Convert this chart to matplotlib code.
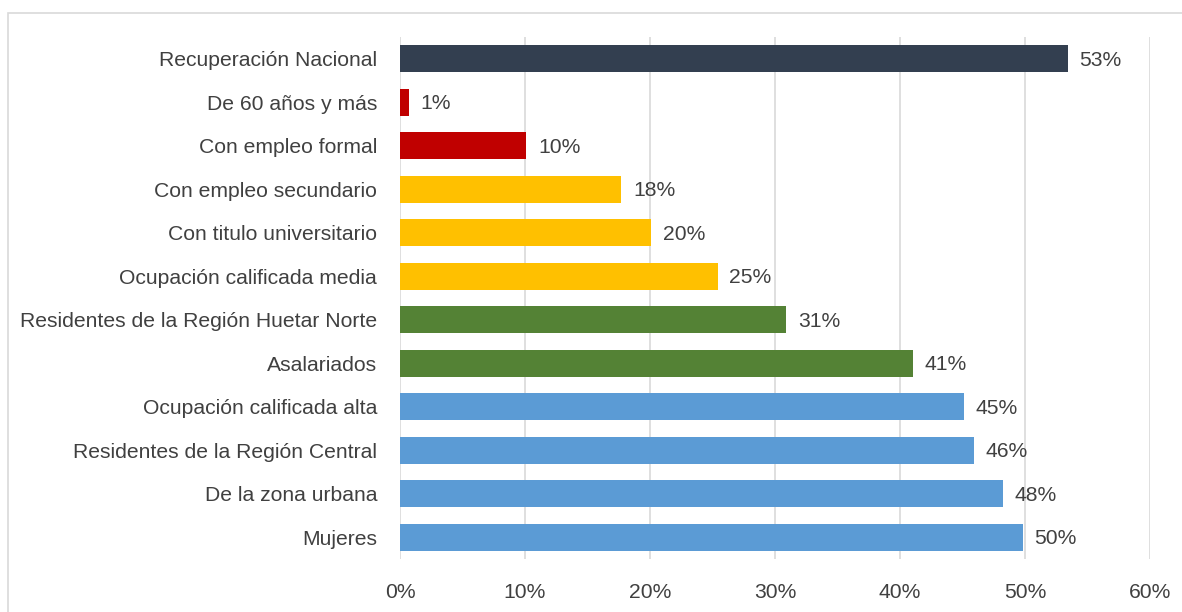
import matplotlib.pyplot as plt
from matplotlib.patches import Rectangle
from matplotlib.ticker import FuncFormatter

# data (top to bottom)
categorias = ['Recuperación Nacional', 'De 60 años y más', 'Con empleo formal',
              'Con empleo secundario', 'Con titulo universitario',
              'Ocupación calificada media', 'Residentes de la Región Huetar Norte',
              'Asalariados', 'Ocupación calificada alta',
              'Residentes de la Región Central', 'De la zona urbana', 'Mujeres']
valores = [53.4, 0.7, 10.1, 17.7, 20.1, 25.4, 30.9, 41.0, 45.1, 45.9, 48.2, 49.8]
etiquetas = ['53%', '1%', '10%', '18%', '20%', '25%', '31%', '41%', '45%', '46%', '48%', '50%']
grupo = ['total', 'rojo', 'rojo', 'amarillo', 'amarillo', 'amarillo',
         'verde', 'verde', 'azul', 'azul', 'azul', 'azul']

colores = {'total': '#333F50', 'rojo': '#C00000', 'amarillo': '#FFC000',
           'verde': '#548235', 'azul': '#5B9BD5'}

plt.rcParams['font.family'] = ['Liberation Sans', 'DejaVu Sans']
fs = 15.2

fig = plt.figure(figsize=(11.82, 6.12), dpi=100)
ax = fig.add_axes([400 / 1182, 1 - 559 / 612, 750 / 1182, 522 / 612])

# chart frame
fig.patches.append(Rectangle((8 / 1182, -0.1), 1.2, 1 - 13 / 612 + 0.1,
                             transform=fig.transFigure, fill=False,
                             edgecolor='#D9D9D9', linewidth=1.2))

y = list(range(len(categorias)))
ax.barh(y, valores, height=0.62, color=[colores[g] for g in grupo], zorder=3)

for yi, v, t in zip(y, valores, etiquetas):
    ax.text(v + 0.95, yi + 0.04, t, va='center', ha='left', fontsize=fs, color='#404040')

ax.set_xlim(0, 60)
ax.set_ylim(len(categorias) - 0.5, -0.5)
ax.set_xticks(range(0, 61, 10))
ax.xaxis.set_major_formatter(FuncFormatter(lambda x, p: f'{x:.0f}%'))
ax.set_yticks(y)
ax.set_yticklabels(categorias)
ax.tick_params(axis='y', length=0, pad=16.5, labelsize=fs, labelcolor='#404040')
ax.tick_params(axis='x', length=0, pad=17, labelsize=fs, labelcolor='#404040')
ax.grid(axis='x', color='#D9D9D9', linewidth=1.2, zorder=0)
for s in ax.spines.values():
    s.set_visible(False)

fig.savefig('out.png', dpi=100)
